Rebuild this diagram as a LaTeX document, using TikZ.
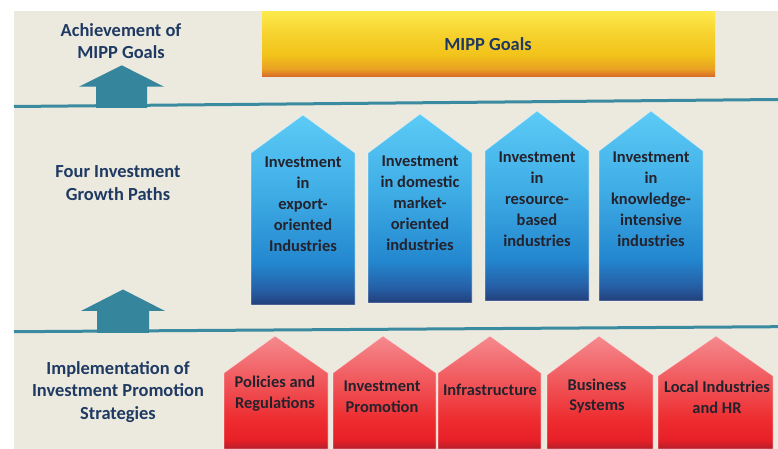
\documentclass[tikz,border=0pt]{standalone}
\usepackage{fontspec}
\setmainfont{Carlito}
\definecolor{bgbeige}{HTML}{ECE9DF}
\definecolor{teal}{HTML}{3A8AA0}
\definecolor{arrowteal}{HTML}{35859D}
\definecolor{navytext}{HTML}{1F3A62}
\definecolor{boxtext}{HTML}{24222C}
\definecolor{bA}{HTML}{243F7B}
\definecolor{bB}{HTML}{255FA6}
\definecolor{bC}{HTML}{2387CF}
\definecolor{bD}{HTML}{40AEE6}
\definecolor{bE}{HTML}{5CCBF6}
\definecolor{rA}{HTML}{B51E2B}
\definecolor{rB}{HTML}{E72027}
\definecolor{rC}{HTML}{EE2C30}
\definecolor{rD}{HTML}{F0575B}
\definecolor{rE}{HTML}{F58A8E}
\definecolor{yA}{HTML}{D8662A}
\definecolor{yB}{HTML}{E9A024}
\definecolor{yC}{HTML}{F2C31A}
\definecolor{yD}{HTML}{F6D22E}
\definecolor{yE}{HTML}{FDE94C}
\pgfdeclareverticalshading{blueshade}{100bp}{color(0bp)=(bA); color(25bp)=(bA); color(29bp)=(bB); color(36bp)=(bC); color(55bp)=(bD); color(75bp)=(bE); color(100bp)=(bE)}
\pgfdeclareverticalshading{redshade}{100bp}{color(0bp)=(rA); color(25bp)=(rA); color(29bp)=(rB); color(38bp)=(rC); color(55bp)=(rD); color(75bp)=(rE); color(100bp)=(rE)}
\pgfdeclareverticalshading{yellowshade}{100bp}{color(0bp)=(yA); color(25bp)=(yA); color(31bp)=(yB); color(42bp)=(yC); color(58bp)=(yD); color(75bp)=(yE); color(100bp)=(yE)}
\newcommand{\myhouse}[6]{% x1, x2, tipx, tipy, shouldery, bottomy
  \path[#6] (#1,#5) -- (#3,#4) -- (#2,#5) -- (#2,449) -- (#1,449) -- cycle;}
\begin{document}
\begin{tikzpicture}[x=1bp,y=-1bp,
  lefttext/.style={text=navytext,font=\fontsize{18.5}{22.5}\selectfont\bfseries,align=center,inner sep=0pt},
  boxlabel/.style={text=boxtext,font=\fontsize{16.5}{21}\selectfont\bfseries,align=center,inner sep=0pt},
  blueh/.style={shading=blueshade,draw=white,draw opacity=0.45,line width=0.7bp},
  redh/.style={shading=redshade,draw=white,draw opacity=0.45,line width=0.7bp},
  tealline/.style={draw=teal,line width=3bp},
  uparrow/.style={fill=arrowteal}]
\useasboundingbox (0,0) rectangle (778,449);
\fill[white] (0,0) rectangle (778,449);
\fill[bgbeige] (14,11) rectangle (778,449);
% level lines
\coordinate (l1a) at (14,106.5);
\coordinate (l1b) at (778,99.5);
\coordinate (l2a) at (14,331.7);
\coordinate (l2b) at (778,326.7);
\draw[tealline] (l1a) -- (l1b);
\draw[tealline] (l2a) -- (l2b);
% up arrows
\fill[uparrow] (96,108) -- (96,86.7) -- (79,86.7) -- (121.7,65.3) -- (164,86.7) -- (147,86.7) -- (147,108) -- cycle;
\fill[uparrow] (97,333) -- (97,311) -- (81,311) -- (123,289.5) -- (165,311) -- (149,311) -- (149,333) -- cycle;
% MIPP goals box
\path[shading=yellowshade] (262,12) rectangle (715,77);
\node[lefttext] (goals) at (488,44) {MIPP Goals};
% left labels
\node[lefttext] (ach) at (121,41) {Achievement of\\MIPP Goals};
\node[lefttext] (four) at (118,183) {Four Investment\\Growth Paths};
\node[lefttext] (impl) at (118,392) {Implementation of\\Investment Promotion\\Strategies};
% blue houses
\path[blueh] (251,305) -- (251,153) -- (303,115) -- (355,153) -- (355,305) -- cycle;
\path[blueh] (368,303) -- (368,153) -- (420,114) -- (472,153) -- (472,303) -- cycle;
\path[blueh] (485,301) -- (485,151) -- (537,111) -- (589,151) -- (589,301) -- cycle;
\path[blueh] (599,301) -- (599,151) -- (651,111) -- (703,151) -- (703,301) -- cycle;
\node[boxlabel] (b1) at (303,204) {Investment\\in\\export-\\oriented\\Industries};
\node[boxlabel] (b2) at (420,203) {Investment\\in domestic\\market-\\oriented\\industries};
\node[boxlabel] (b3) at (537,199) {Investment\\in\\resource-\\based\\industries};
\node[boxlabel] (b4) at (651,199) {Investment\\in\\knowledge-\\intensive\\industries};
% red houses
\myhouse{224}{328}{275}{336}{373}{redh}
\myhouse{333}{436}{383}{336}{373}{redh}
\myhouse{438}{541}{490}{336}{373}{redh}
\myhouse{547}{653}{599}{336}{375}{redh}
\myhouse{658}{773}{716}{336}{376}{redh}
\node[boxlabel] (r1) at (275,394) {Policies and\\Regulations};
\node[boxlabel] (r2) at (382,397) {Investment\\Promotion};
\node[boxlabel] (r3) at (490,390) {Infrastructure};
\node[boxlabel] (r4) at (597,396) {Business\\Systems};
\node[boxlabel] (r5) at (717,397) {Local Industries\\and HR};
\end{tikzpicture}
\end{document}
